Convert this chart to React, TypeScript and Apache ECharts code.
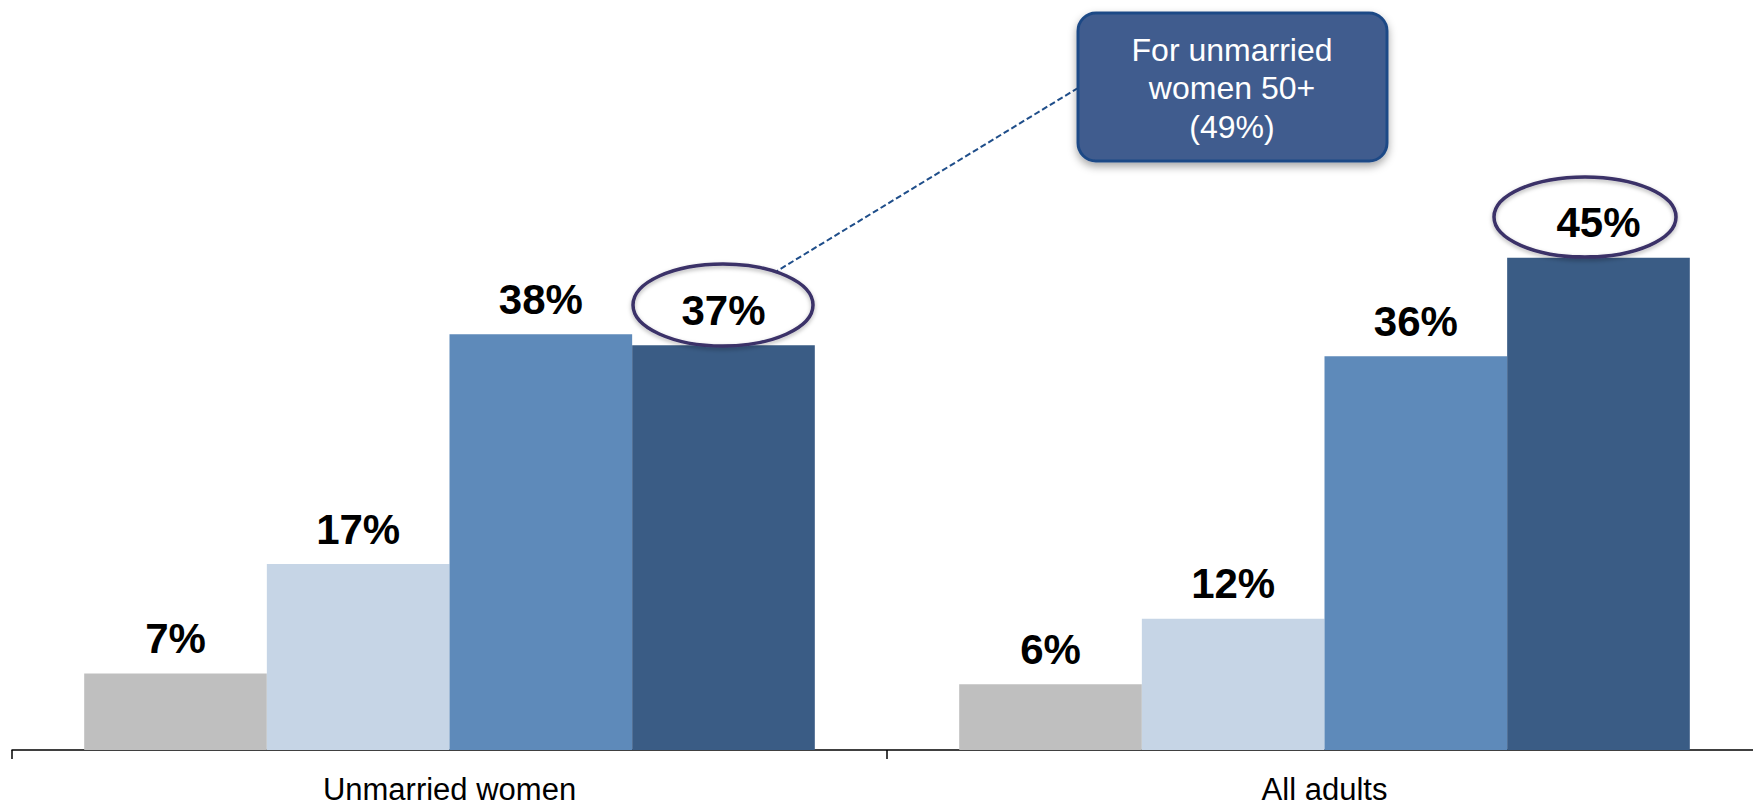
import React, { useEffect, useRef } from "react";
import * as echarts from "echarts";

const categories = ["Unmarried women", "All adults"];
const seriesNames = ["Group 1", "Group 2", "Group 3", "Group 4"];
const group1 = [7, 6];
const group2 = [17, 12];
const group3 = [38, 36];
const group4 = [37, 45];
const seriesColors = ["#BFBFBF", "#C6D5E6", "#5E8ABA", "#3A5C85"];
const calloutText = "For unmarried\nwomen 50+\n(49%)";

const FONT = '"Liberation Sans", Arial, Helvetica, sans-serif';

export default function App() {
  const ref = useRef<HTMLDivElement | null>(null);

  useEffect(() => {
    if (!ref.current) return;
    const chart = echarts.init(ref.current, undefined, { renderer: "svg" });
    const values = [group1, group2, group3, group4];
    chart.setOption({
      animation: false,
      backgroundColor: "#ffffff",
      grid: { left: 12, right: 0, top: 203, bottom: 55, containLabel: false },
      xAxis: {
        type: "category",
        data: categories,
        boundaryGap: true,
        axisLine: { show: true, lineStyle: { color: "#000000", width: 1.5 } },
        axisTick: { show: true, length: 9, lineStyle: { color: "#000000", width: 1.5 } },
        axisLabel: {
          color: "#000000",
          fontSize: 31,
          fontFamily: FONT,
          margin: 25,
          lineHeight: 28,
        },
      },
      yAxis: {
        type: "value",
        min: 0,
        max: 50,
        show: false,
        splitLine: { show: false },
      },
      series: values.map((v, i) => ({
        type: "bar",
        name: seriesNames[i],
        data: v,
        barGap: "0%",
        barCategoryGap: "16.5%",
        itemStyle: { color: seriesColors[i] },
        label: {
          show: true,
          position: "top",
          distance: 14,
          formatter: "{c}%",
          color: "#000000",
          fontSize: 42,
          fontWeight: "bold",
          fontFamily: FONT,
        },
      })),
      graphic: [
        {
          type: "line",
          z: 100,
          shape: { x1: 1078, y1: 88, x2: 777, y2: 271 },
          style: { stroke: "#1F4E8A", lineWidth: 2, lineDash: [6, 3] },
        },
        {
          type: "rect",
          z: 101,
          shape: { x: 1078, y: 13, width: 309, height: 148, r: 18 },
          style: {
            fill: "#415C8E",
            stroke: "#1F4A86",
            lineWidth: 3,
            shadowBlur: 8,
            shadowOffsetY: 4,
            shadowColor: "rgba(0,0,0,0.35)",
          },
        },
        {
          type: "text",
          z: 102,
          x: 1232,
          y: 88,
          style: {
            text: calloutText,
            fill: "#ffffff",
            fontSize: 32,
            fontFamily: FONT,
            align: "center",
            verticalAlign: "middle",
            lineHeight: 38.5,
          },
        },
        {
          type: "ellipse",
          z: 100,
          shape: { cx: 723, cy: 305, rx: 90, ry: 41 },
          style: {
            fill: "none",
            stroke: "#3A3068",
            lineWidth: 3.5,
            shadowBlur: 4,
            shadowOffsetY: 2,
            shadowColor: "rgba(0,0,0,0.3)",
          },
        },
        {
          type: "ellipse",
          z: 100,
          shape: { cx: 1585, cy: 217, rx: 91, ry: 40 },
          style: {
            fill: "none",
            stroke: "#3A3068",
            lineWidth: 3.5,
            shadowBlur: 4,
            shadowOffsetY: 2,
            shadowColor: "rgba(0,0,0,0.3)",
          },
        },
      ],
    });
    return () => {
      chart.dispose();
    };
  }, []);

  return (
    <div
      style={{
        position: "fixed",
        left: 0,
        top: 0,
        width: 1753,
        height: 805,
        overflow: "hidden",
        background: "#ffffff",
      }}
    >
      <div ref={ref} style={{ width: 1762, height: 805 }} />
    </div>
  );
}
